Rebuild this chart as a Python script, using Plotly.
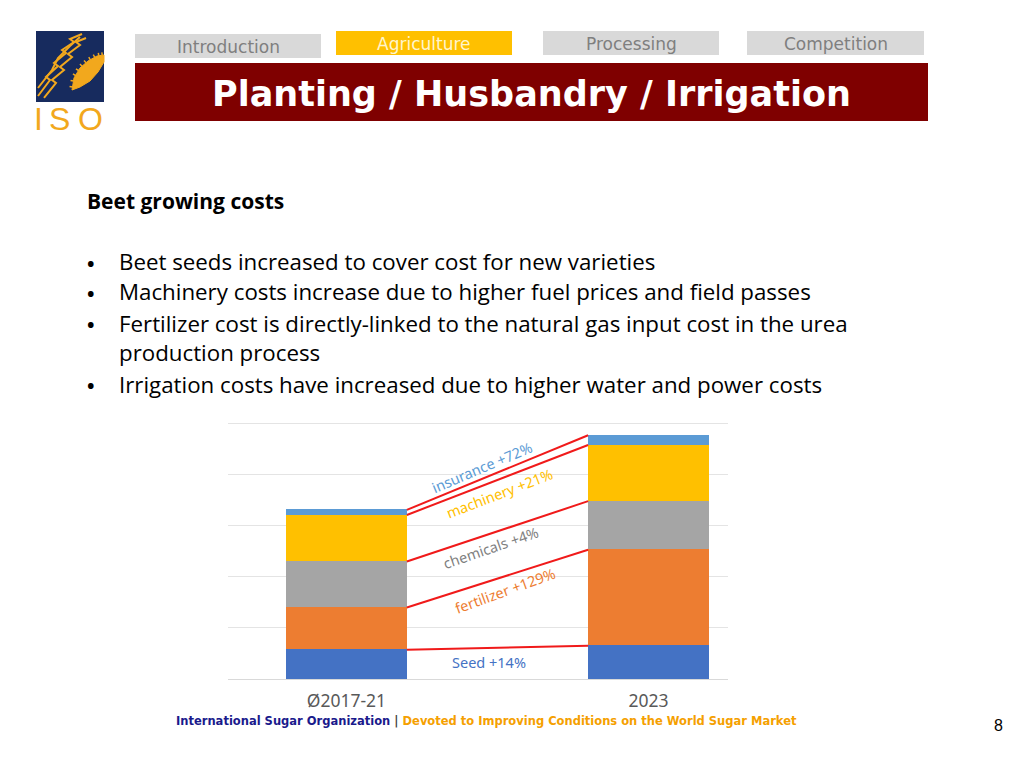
import plotly.graph_objects as go
import numpy as np

# ---------------- data ----------------
periods = ["Ø2017-21", "2023"]
components = ["Seed", "fertilizer", "chemicals", "machinery", "insurance"]
cost_2017_21 = [57, 83, 90, 91, 10]
cost_2023 = [65, 188, 95, 110, 19]
change_labels = ["Seed +14%", "fertilizer +129%", "chemicals +4%", "machinery +21%", "insurance +72%"]
bar_colors = ["#4472C4", "#ED7D31", "#A5A5A5", "#FFC000", "#5B9BD5"]
label_colors = ["#4472C4", "#ED7D31", "#7F7F7F", "#FFC000", "#5B9BD5"]

tabs = ["Introduction", "Agriculture", "Processing", "Competition"]
title = "Planting / Husbandry / Irrigation"
subtitle = "Beet growing costs"
bullets = [
    "Beet seeds increased to cover cost for new varieties",
    "Machinery costs increase due to higher fuel prices and field passes",
    "Fertilizer cost is directly-linked to the natural gas input cost in the urea<br>production process",
    "Irrigation costs have increased due to higher water and power costs",
]

# ---------------- layout helpers (page pixels -> paper) ----------------
W, H = 1024, 768
def px(x):
    return x / W
def py(y):
    return 1 - y / H

def path_px(points, close=False):
    s = "M " + " L ".join(f"{px(x):.5f},{py(y):.5f}" for x, y in points)
    return s + (" Z" if close else "")

fig = go.Figure()

# stacked bars
bar_width = 0.4
xpos = [0, 1]
for i, comp in enumerate(components):
    fig.add_trace(go.Bar(
        x=xpos, y=[cost_2017_21[i], cost_2023[i]], name=comp,
        marker=dict(color=bar_colors[i], line=dict(width=0)),
        width=bar_width, hoverinfo="skip", showlegend=False,
    ))

# connector lines between segment tops
top1 = np.cumsum(cost_2017_21)
top2 = np.cumsum(cost_2023)
for i in range(len(components)):
    fig.add_trace(go.Scatter(
        x=[xpos[0] + bar_width / 2, xpos[1] - bar_width / 2],
        y=[top1[i], top2[i]], mode="lines",
        line=dict(color="#F01A1A", width=2), hoverinfo="skip", showlegend=False,
    ))

# change labels
label_offsets = [(-8, -14), (8, -11), (-6, -16), (2, -13), (-16, 6)]
label_angles = [0, -20, -19, -21, -23]
annotations = []
for i in range(len(components)):
    dx, dy = label_offsets[i]
    annotations.append(dict(
        x=0.5, y=(top1[i] + top2[i]) / 2, xref="x", yref="y",
        text=change_labels[i], showarrow=False, textangle=label_angles[i],
        xshift=dx, yshift=dy,
        font=dict(family="Noto Sans", size=14.5, color=label_colors[i]),
    ))

shapes = []
# logo
shapes.append(dict(type="rect", xref="paper", yref="paper",
                   x0=px(36), x1=px(104), y0=py(102), y1=py(31),
                   fillcolor="#172B5E", line=dict(width=0), layer="above"))
gold = "#F2A81D"
stalks = [
    [(38, 96), (50, 80), (46, 77), (58, 66), (54, 63), (66, 53), (62, 50), (74, 42), (70, 39), (82, 34)],
    [(44, 98), (56, 83), (52, 80), (64, 70), (60, 67), (72, 57), (68, 54), (80, 45), (76, 42), (86, 38)],
    [(38, 88), (52, 70), (58, 58), (70, 46), (80, 37)],
]
for s in stalks:
    shapes.append(dict(type="path", xref="paper", yref="paper", path=path_px(s),
                       line=dict(color=gold, width=2), layer="above"))
trowel = [(72, 90), (74, 78), (80, 68), (88, 61), (97, 56), (104, 55), (104, 62),
          (98, 72), (90, 81), (80, 87)]
shapes.append(dict(type="path", xref="paper", yref="paper", path=path_px(trowel, close=True),
                   fillcolor=gold, line=dict(color=gold, width=1), layer="above"))
# serrations on the trowel edge
edge = trowel[:6]
for (xa, ya), (xb, yb) in zip(edge[:-1], edge[1:]):
    for t in (0.25, 0.75):
        xm, ym = xa + (xb - xa) * t, ya + (yb - ya) * t
        dxn, dyn = (yb - ya), -(xb - xa)
        nrm = (dxn ** 2 + dyn ** 2) ** 0.5
        shapes.append(dict(type="line", xref="paper", yref="paper",
                           x0=px(xm), y0=py(ym), x1=px(xm + 3 * dxn / nrm), y1=py(ym + 3 * dyn / nrm),
                           line=dict(color=gold, width=1.5), layer="above"))

# tabs
tab_boxes = [(135, 321, 34, 58), (336, 512, 31, 55), (543, 719, 31, 55), (747, 924, 31, 55)]
tab_fill = ["#D9D9D9", "#FFC000", "#D9D9D9", "#D9D9D9"]
tab_text_color = ["#7F7F7F", "#FFF5CC", "#7F7F7F", "#7F7F7F"]
for (x0, x1, y0, y1), fc, tc, t in zip(tab_boxes, tab_fill, tab_text_color, tabs):
    shapes.append(dict(type="rect", xref="paper", yref="paper",
                       x0=px(x0), x1=px(x1), y0=py(y1), y1=py(y0),
                       fillcolor=fc, line=dict(width=0), layer="above"))
    annotations.append(dict(x=px((x0 + x1) / 2), y=py((y0 + y1) / 2 + 1), xref="paper", yref="paper",
                            text=t, showarrow=False, xanchor="center", yanchor="middle",
                            font=dict(family="DejaVu Sans", size=17, color=tc)))

# title banner
shapes.append(dict(type="rect", xref="paper", yref="paper",
                   x0=px(135), x1=px(928), y0=py(121), y1=py(63),
                   fillcolor="#7F0000", line=dict(width=0), layer="above"))
annotations.append(dict(x=px(531), y=py(94), xref="paper", yref="paper",
                        text=f"<b>{title}</b>", showarrow=False, xanchor="center", yanchor="middle",
                        font=dict(family="DejaVu Sans", size=35, color="white")))

# logo text
for letter, lx in zip("ISO", (38, 59, 90)):
    annotations.append(dict(x=px(lx), y=py(119), xref="paper", yref="paper",
                            text=letter, showarrow=False, xanchor="center", yanchor="middle",
                            font=dict(family="Liberation Sans", size=32, color=gold)))

# subtitle and bullets
annotations.append(dict(x=px(85), y=py(201), xref="paper", yref="paper",
                        text=f"<b>{subtitle}</b>", showarrow=False, xanchor="left", yanchor="middle",
                        font=dict(family="Open Sans", size=21, color="#000000")))
bullet_y = [263, 293, 324, 385]
for b, yb in zip(bullets, bullet_y):
    annotations.append(dict(x=px(85), y=py(yb), xref="paper", yref="paper",
                            text="<b>•</b>", showarrow=False, xanchor="left", yanchor="middle",
                            font=dict(family="Open Sans", size=20, color="#000000")))
    nlines = b.count("<br>") + 1
    annotations.append(dict(x=px(117), y=py(yb - 1 + (nlines - 1) * 15.5), xref="paper", yref="paper",
                            text=b, showarrow=False, xanchor="left", yanchor="middle", align="left",
                            font=dict(family="Open Sans", size=22.3, color="#000000")))

# footer
footer = ("<b><span style='color:#1A1A8C'>International Sugar Organization</span>"
          "<span style='color:#444444'> | </span>"
          "<span style='color:#F5A000'>Devoted to Improving Conditions on the World Sugar Market</span></b>")
annotations.append(dict(x=px(174), y=py(721), xref="paper", yref="paper",
                        text=footer, showarrow=False, xanchor="left", yanchor="middle",
                        font=dict(family="DejaVu Sans", size=11.5)))
annotations.append(dict(x=px(998), y=py(725), xref="paper", yref="paper",
                        text="8", showarrow=False, xanchor="center", yanchor="middle",
                        font=dict(family="Liberation Sans", size=16, color="#000000")))

# y scale: 0.511 px per unit; extend range a bit above the top gridline so it renders
ymax = 506
fig.update_layout(
    width=W, height=H, autosize=False,
    margin=dict(l=0, r=0, t=0, b=0, pad=0),
    paper_bgcolor="white", plot_bgcolor="white",
    barmode="stack", bargap=0,
    shapes=shapes, annotations=annotations,
    xaxis=dict(domain=[px(228), px(728)], range=[-0.392, 1.263],
               tickvals=xpos, ticktext=periods, showgrid=False, zeroline=False,
               showline=False, ticks="", ticklabelstandoff=9,
               tickfont=dict(family="Noto Sans", size=17.5, color="#595959")),
    yaxis=dict(domain=[py(679), py(679 - ymax * 0.511)], range=[0, ymax], dtick=100,
               showgrid=True, gridcolor="#E4E4E4", gridwidth=1,
               zeroline=True, zerolinecolor="#D9D9D9", zerolinewidth=1,
               showticklabels=False, ticks="", showline=False),
)

fig.write_html("out.html", config={"displayModeBar": False},
               post_script="document.body.style.margin='0';")
